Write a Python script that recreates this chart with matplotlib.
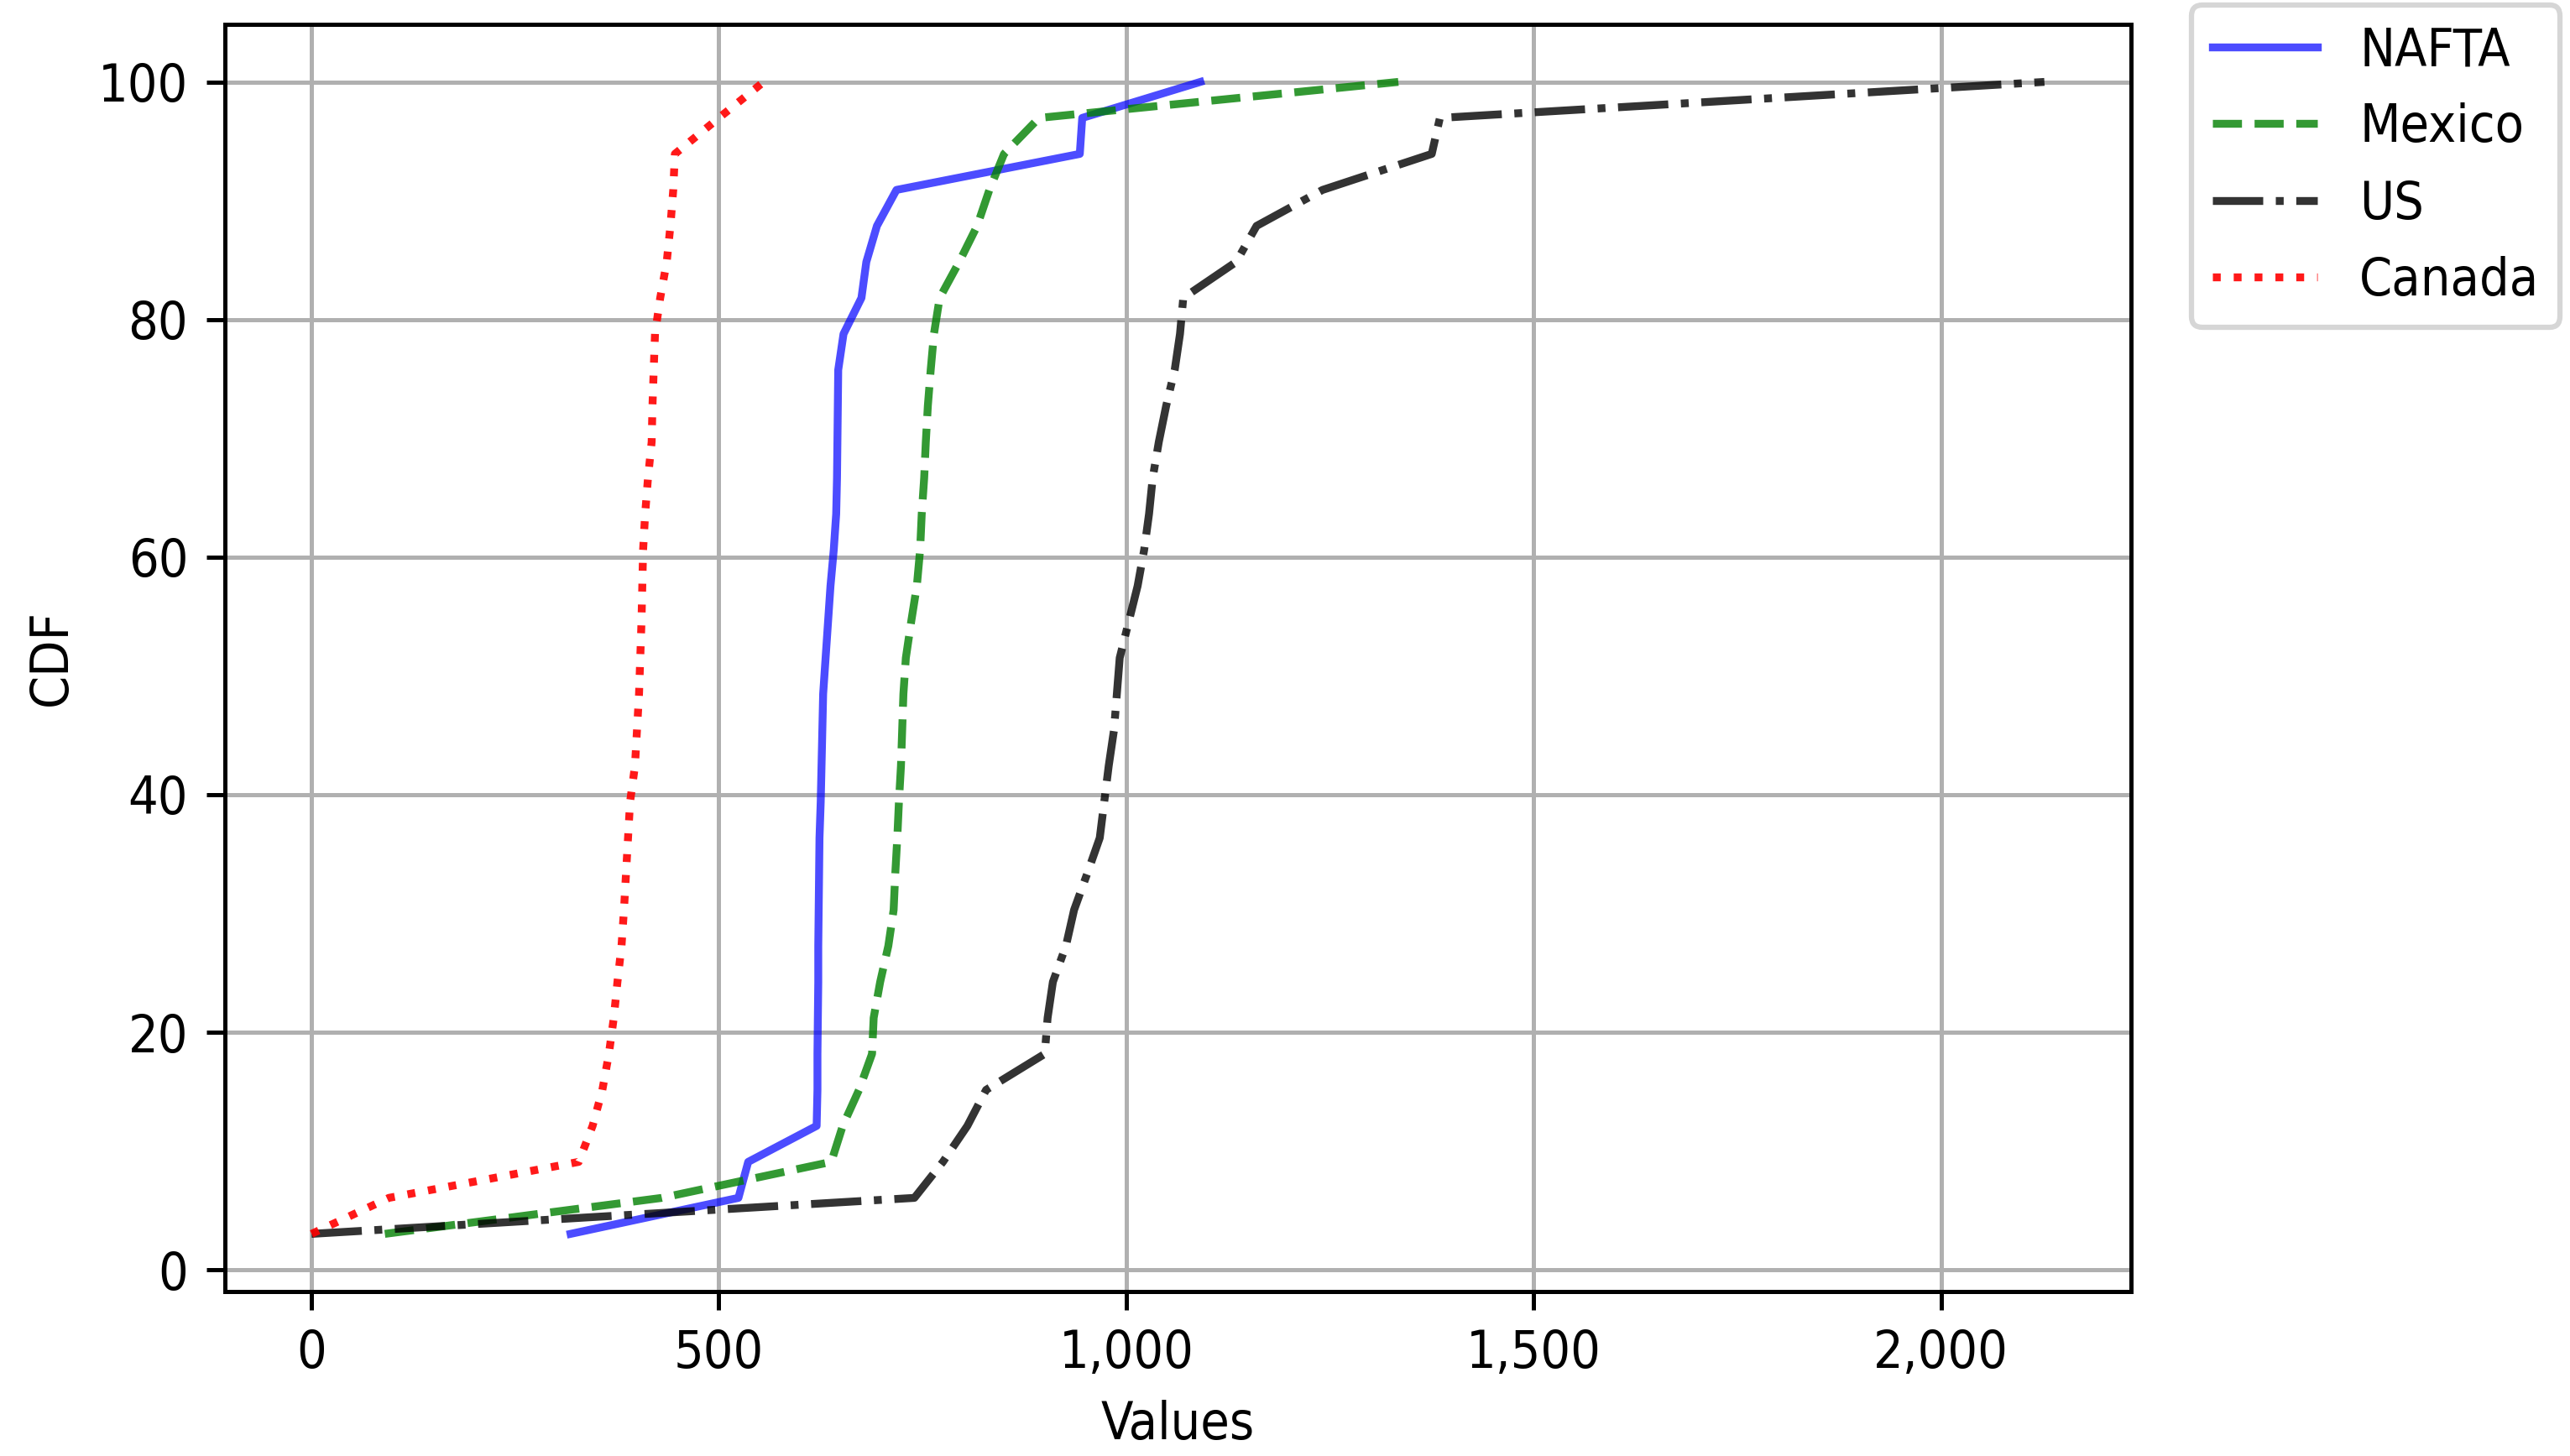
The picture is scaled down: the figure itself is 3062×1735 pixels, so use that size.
import numpy as np
import matplotlib
matplotlib.use("Agg")
import matplotlib.pyplot as plt
from matplotlib import font_manager
from matplotlib.ticker import FuncFormatter

nafta = [318, 524, 536, 620, 621, 621, 621.5, 622, 622, 622.5, 623, 623.5, 625,
         626, 627, 628, 631, 634, 637, 641, 644, 645, 645.5, 646, 646.5, 653,
         675, 681, 694, 718, 943, 946, 1091]
mexico = [90, 430, 638, 652, 672, 688, 690, 698, 708, 714.5, 716.5, 719, 721,
          723.5, 725, 726.5, 729.5, 736, 743, 747, 749, 752, 754, 756.5, 760,
          764, 771, 795, 817, 832, 850, 893, 1334]
us = [0, 740, 775, 805, 828, 900, 903.5, 910, 926, 936, 952, 967.5, 973, 978.5,
      985, 988.5, 992, 1003, 1014, 1022, 1028, 1032.5, 1040, 1049, 1059.5, 1066,
      1070, 1135, 1160, 1241, 1375, 1385, 2127]
canada = [0, 95, 328, 345, 357, 365, 371, 375.5, 380.5, 383.5, 386, 388.5, 391,
          397, 399.5, 402, 403.5, 405, 406, 407, 409.5, 413, 417.5, 418.5, 420,
          421.6, 428, 436, 440.5, 444, 446, 500, 555]

series_names = ["NAFTA", "Mexico", "US", "Canada"]
x_label = "Values"
y_label = "CDF"

# The reference text is slightly narrow; use the condensed DejaVu face if present
has_condensed = any(f.name == "DejaVu Sans" and str(f.stretch) in ("condensed", "semi-condensed")
                    for f in font_manager.fontManager.ttflist)
plt.rcParams["font.family"] = ["DejaVu Sans"]
if has_condensed:
    plt.rcParams["font.stretch"] = "condensed"
    base_size = 10
else:
    base_size = 9.4
plt.rcParams["font.size"] = base_size

DPI = 450
fig = plt.figure(figsize=(3062 / DPI, 1735 / DPI), dpi=DPI)
ax = fig.add_axes([0.0875, 0.1130, 0.8292 - 0.0875, 0.9833 - 0.1130])


def cdf(values):
    v = np.sort(np.asarray(values, dtype=float))
    n = len(v)
    return v, np.arange(1, n + 1) / n * 100


styles = [
    dict(color="b", linestyle="-", alpha=0.7),
    dict(color="g", linestyle="--", alpha=0.8),
    dict(color="k", linestyle="-.", alpha=0.8),
    dict(color="r", linestyle=":", alpha=0.9),
]

for data, name, st in zip([nafta, mexico, us, canada], series_names, styles):
    xv, yv = cdf(data)
    ax.plot(xv, yv, label=name, linewidth=1.5, **st)

ax.set_xlabel(x_label)
ax.set_ylabel(y_label)
ax.grid(True)
ax.xaxis.set_major_formatter(FuncFormatter(lambda v, p: "{:,.0f}".format(v)))
ax.set_yticks([0, 20, 40, 60, 80, 100])

ax.legend(loc="upper left", bbox_to_anchor=(1.0317, 1.0152), borderaxespad=0)

fig.savefig("out.png", dpi=DPI)
